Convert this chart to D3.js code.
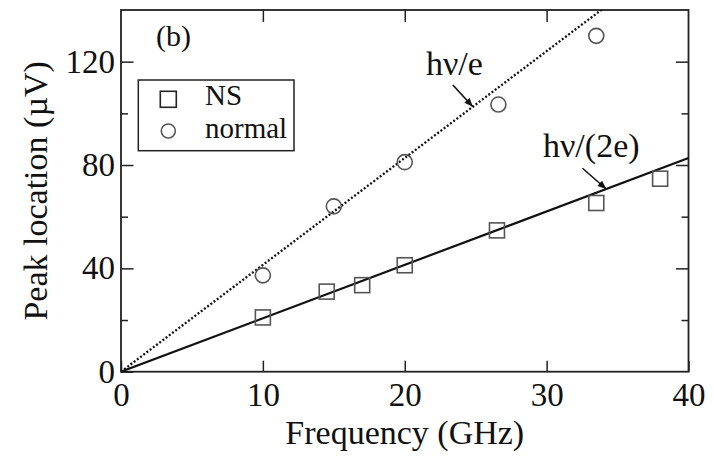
<!DOCTYPE html>
<html>
<head>
<meta charset="utf-8">
<script src="https://cdn.jsdelivr.net/npm/d3@7"></script>
<style>
  body { margin: 0; background: #fff; }
  svg { display: block; }
  text { font-family: "Liberation Serif", "Times New Roman", serif; fill: #111; }
</style>
</head>
<body>
<svg width="714" height="456"></svg>
<script>
// NS (squares) and normal (circles) peak locations
const freqNS = [10, 14.5, 17, 20, 26.5, 33.5, 38];
const peakNS = [21, 31, 33.5, 41.2, 54.7, 65.3, 74.7];
const freqNormal = [10, 15, 20, 26.6, 33.5];
const peakNormal = [37.3, 64, 81.1, 103.4, 130];

// theory lines: V = h f / e  and  V = h f / (2e), in uV per GHz
const slopeE = 4.1357;
const slope2E = 2.0678;
const lineFreqs = [0, 40];

const xTicks = [0, 10, 20, 30, 40];
const yMajor = [0, 40, 80, 120];
const yMinor = [20, 60, 100, 140];

const svg = d3.select("svg");
const width = 714, height = 456;
const margin = { top: 10, right: 25.5, bottom: 84.3, left: 121 };
const innerWidth = width - margin.left - margin.right;
const innerHeight = height - margin.top - margin.bottom;

const g = svg.append("g")
    .attr("transform", `translate(${margin.left},${margin.top})`);

const x = d3.scaleLinear().domain([0, 40]).range([0, innerWidth]);
const y = d3.scaleLinear().domain([0, 140]).range([innerHeight, 0]);

// clip for lines
svg.append("defs").append("clipPath").attr("id", "clip")
  .append("rect").attr("width", innerWidth).attr("height", innerHeight);

// axes (ticks point inward)
function styleAxis(sel) {
    sel.select(".domain").remove();
    sel.selectAll(".tick line").attr("stroke", "#222").attr("stroke-width", 1.5);
    sel.selectAll(".tick text").style("font-size", "33px")
        .style("font-family", "'Liberation Serif', serif").attr("fill", "#111");
}

g.append("g").attr("transform", `translate(0,${innerHeight})`)
    .call(d3.axisBottom(x).tickValues(xTicks).tickSize(-11).tickPadding(11))
    .call(styleAxis);
g.append("g")
    .call(d3.axisTop(x).tickValues(xTicks.slice(1, -1)).tickSize(-12).tickFormat(""))
    .call(styleAxis);
g.append("g")
    .call(d3.axisLeft(y).tickValues(yMajor).tickSize(-12.5).tickPadding(6))
    .call(styleAxis);
g.append("g")
    .call(d3.axisLeft(y).tickValues(yMinor.slice(0, -1)).tickSize(-7).tickFormat(""))
    .call(styleAxis);
g.append("g").attr("transform", `translate(${innerWidth},0)`)
    .call(d3.axisRight(y).tickValues(yMajor.slice(1)).tickSize(-12.5).tickFormat(""))
    .call(styleAxis);
g.append("g").attr("transform", `translate(${innerWidth},0)`)
    .call(d3.axisRight(y).tickValues(yMinor.slice(0, -1)).tickSize(-7).tickFormat(""))
    .call(styleAxis);

// frame
g.append("rect")
    .attr("width", innerWidth).attr("height", innerHeight)
    .attr("fill", "none").attr("stroke", "#222").attr("stroke-width", 1.8);

// theory lines
const lines = g.append("g").attr("clip-path", "url(#clip)");
lines.append("path")
    .datum(lineFreqs.map(f => [f, f * slopeE]))
    .attr("fill", "none").attr("stroke", "#111")
    .attr("stroke-width", 2.3).attr("stroke-dasharray", "2,2")
    .attr("d", d3.line().x(d => x(d[0])).y(d => y(d[1])));
lines.append("path")
    .datum(lineFreqs.map(f => [f, f * slope2E]))
    .attr("fill", "none").attr("stroke", "#111").attr("stroke-width", 2.2)
    .attr("d", d3.line().x(d => x(d[0])).y(d => y(d[1])));

// markers
const sq = 15, rad = 7.5;
g.selectAll(".ns").data(freqNS).join("rect")
    .attr("x", (d) => x(d) - sq / 2)
    .attr("y", (d, i) => y(peakNS[i]) - sq / 2)
    .attr("width", sq).attr("height", sq)
    .attr("fill", "none").attr("stroke", "#555").attr("stroke-width", 1.6);
g.selectAll(".normal").data(freqNormal).join("circle")
    .attr("cx", d => x(d))
    .attr("cy", (d, i) => y(peakNormal[i]))
    .attr("r", rad)
    .attr("fill", "none").attr("stroke", "#555").attr("stroke-width", 1.6);

// annotations with arrows
svg.append("defs").append("marker").attr("id", "arrow")
    .attr("viewBox", "0 0 12 10").attr("refX", 12).attr("refY", 5)
    .attr("markerWidth", 6).attr("markerHeight", 4.5).attr("orient", "auto")
  .append("path").attr("d", "M0,0 L12,5 L0,10 z").attr("fill", "#111");

function annotate(label, tx, ty, fx, fy, ang, len) {
    const tipX = x(fx), tipY = y(fy);
    g.append("line")
        .attr("x1", tipX - len * Math.cos(ang)).attr("y1", tipY - len * Math.sin(ang))
        .attr("x2", tipX).attr("y2", tipY)
        .attr("stroke", "#111").attr("stroke-width", 1.6)
        .attr("marker-end", "url(#arrow)");
    g.append("text").attr("x", tx).attr("y", ty)
        .style("font-size", "34px").text(label);
}
annotate("hν/e", 426 - margin.left, 75 - margin.top, 24.8, 24.8 * slopeE, 0.826, 29.5);
annotate("hν/(2e)", 543 - margin.left, 157 - margin.top, 34.2, 34.2 * slope2E, 0.718, 31.5);

// panel label
g.append("text").attr("x", 156 - margin.left).attr("y", 46 - margin.top)
    .style("font-size", "30px").text("(b)");

// legend
const legend = g.append("g").attr("transform", `translate(${138.3 - margin.left},${80 - margin.top})`);
legend.append("rect").attr("width", 155.7).attr("height", 70.7)
    .attr("fill", "#fff").attr("stroke", "#222").attr("stroke-width", 1.5);
legend.append("rect").attr("x", 30 - 8).attr("y", 19.3 - 8).attr("width", 16).attr("height", 16)
    .attr("fill", "none").attr("stroke", "#222").attr("stroke-width", 1.6);
legend.append("circle").attr("cx", 30).attr("cy", 51).attr("r", 7)
    .attr("fill", "none").attr("stroke", "#555").attr("stroke-width", 1.6);
legend.append("text").attr("x", 66.7).attr("y", 25).style("font-size", "29px").text("NS");
legend.append("text").attr("x", 66.7).attr("y", 58).style("font-size", "29px").text("normal");

// axis titles
svg.append("text")
    .attr("x", margin.left + innerWidth / 2).attr("y", 444)
    .attr("text-anchor", "middle").style("font-size", "34px")
    .text("Frequency (GHz)");
svg.append("text")
    .attr("transform", `translate(47,${margin.top + innerHeight / 2}) rotate(-90)`)
    .attr("text-anchor", "middle").style("font-size", "34px")
    .text("Peak location (µV)");
</script>
</body>
</html>
